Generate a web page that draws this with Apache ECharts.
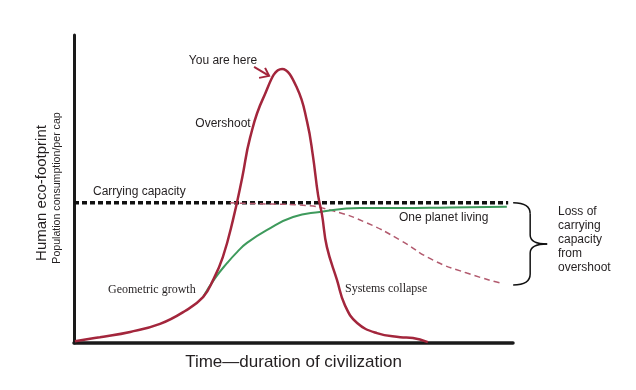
<!DOCTYPE html>
<html>
<head>
<meta charset="utf-8">
<script src="https://cdn.jsdelivr.net/npm/echarts@6/dist/echarts.min.js"></script>
<style>
html,body{margin:0;padding:0;background:#fff;}
#chart{width:636px;height:390px;}
</style>
</head>
<body>
<div id="chart"></div>
<script>
// Overshoot curve (time, footprint)
const overshootCurve = [
  [0.2,0.6],[5.9,1.9],[12.8,3.6],[19.6,6.2],[25.3,10.4],[29.4,14.9],[31.7,20.5],
  [33.9,27.9],[36.2,39.9],[38.3,53.6],[40.1,66.6],[43.1,79.5],[47.4,89],
  [50.8,82.8],[53.1,71.8],[54.4,61],[55.6,48],[56.5,41.6],[57.6,31.2],
  [59.9,20.5],[61.7,12.3],[64.5,6.5],[69,3.2],[74.3,1.9],[77.2,1.6],[80.6,0.3]
];
// One planet living curve
const onePlanetCurve = [
  [29.4,14.9],[32.1,21],[34.9,26],[37.2,29.6],[39.4,32.5],[44,36.7],[49.9,40.9],[56,42.5],
  [65.1,43.8],[74.3,43.8],[85.6,44],[98.6,44.2]
];
// Loss of carrying capacity (dashed)
const lossCurve = [
  [35.5,45.5],[45.3,45.1],[51.5,44.8],[59,42.9],[66.7,39],[74.3,33.4],[81.8,26.9],[89.5,22.7],[97,19.5]
];
// Carrying capacity level
const carryingCapacity = [[0,45.5],[98.9,45.5]];

const RED = '#a3263c';
const GREEN = '#3e9a5c';
const TXT = '#231f20';
const SANS = '"Liberation Sans", Arial, sans-serif';
const SERIF = '"Liberation Serif", "Times New Roman", serif';

const chart = echarts.init(document.getElementById('chart'));
const option = {
  animation: false,
  backgroundColor: '#fff',
  grid: {left: 74, right: 123, top: 35, bottom: 47},
  xAxis: {
    type: 'value', min: 0, max: 100,
    axisLine: {show: true, onZero: false, lineStyle: {color: '#1a1a1a', width: 3.5}},
    axisTick: {show: false}, axisLabel: {show: false}, splitLine: {show: false},
    name: 'Time\u2014duration of civilization', nameLocation: 'middle', nameGap: 11,
    nameTextStyle: {fontFamily: SANS, fontSize: 17, color: TXT}
  },
  yAxis: {
    type: 'value', min: 0, max: 100,
    axisLine: {show: true, onZero: false, lineStyle: {color: '#1a1a1a', width: 3}},
    axisTick: {show: false}, axisLabel: {show: false}, splitLine: {show: false}
  },
  series: [
    {
      name: 'Carrying capacity', type: 'line', data: carryingCapacity, symbol: 'none',
      lineStyle: {color: '#111', width: 3.5, type: [5, 3]}, z: 2
    },
    {
      name: 'Loss', type: 'line', data: lossCurve, symbol: 'none', smooth: 0.5,
      lineStyle: {color: '#b25a6e', width: 1.5, type: [6, 4]}, z: 3
    },
    {
      name: 'One planet living', type: 'line', data: onePlanetCurve, symbol: 'none', smooth: 0.5,
      lineStyle: {color: GREEN, width: 2}, z: 4
    },
    {
      name: 'Overshoot', type: 'line', data: overshootCurve, symbol: 'none', smooth: 0.45,
      lineStyle: {color: RED, width: 2.5}, z: 5
    }
  ]
};
chart.setOption(option);

function px(p){ return chart.convertToPixel({gridIndex: 0}, p); }
const capEnd = px(carryingCapacity[1]);
const lossEnd = px(lossCurve[lossCurve.length - 1]);
const peakPx = px(overshootCurve[12]);
const bx = capEnd[0] + 5, by0 = capEnd[1], by1 = lossEnd[1] + 2, bm = (by0 + by1) / 2;
const vx = bx + 17;
const braceStyle = {stroke: '#111', lineWidth: 1.5, fill: null};
function bez(x1, y1, c1x, c1y, c2x, c2y, x2, y2){
  return {type: 'bezierCurve', silent: true,
    shape: {x1: x1, y1: y1, cpx1: c1x, cpy1: c1y, cpx2: c2x, cpy2: c2y, x2: x2, y2: y2},
    style: braceStyle};
}
function seg(x1, y1, x2, y2, style){
  return {type: 'line', silent: true, shape: {x1: x1, y1: y1, x2: x2, y2: y2}, style: style};
}
const ax = peakPx[0] - 13, ay = peakPx[1] + 7;

function txt(x, y, t, size, font, align){
  return {type: 'text', x: x, y: y, silent: true,
    style: {text: t, fontSize: size, fontFamily: font || SANS, fill: TXT,
      align: align || 'center', verticalAlign: 'middle'}};
}

chart.setOption({
  graphic: [
    txt(223, 61, 'You are here', 12),
    txt(223, 124, 'Overshoot', 12),
    txt(93, 192, 'Carrying capacity', 12, SANS, 'left'),
    txt(399, 218, 'One planet living', 12, SANS, 'left'),
    txt(108, 290, 'Geometric growth', 12, SERIF, 'left'),
    txt(345, 289, 'Systems collapse', 12, SERIF, 'left'),
    {type: 'text', x: 558, y: 205, silent: true,
      style: {text: 'Loss of\ncarrying\ncapacity\nfrom\novershoot', fontSize: 12, lineHeight: 14,
        fontFamily: SANS, fill: TXT, align: 'left', verticalAlign: 'top'}},
    {type: 'text', x: 42, y: 193, rotation: Math.PI / 2, silent: true,
      style: {text: 'Human eco-footprint', fontSize: 15, fontFamily: SANS, fill: TXT,
        align: 'center', verticalAlign: 'middle'}},
    {type: 'text', x: 57, y: 188, rotation: Math.PI / 2, silent: true,
      style: {text: 'Population consumption/per cap', fontSize: 10.6, fontFamily: SANS, fill: TXT,
        align: 'center', verticalAlign: 'middle'}},
    // curly brace
    bez(bx, by0, bx + 10, by0, vx, by0 + 3, vx, by0 + 11),
    seg(vx, by0 + 11, vx, bm - 9, braceStyle),
    bez(vx, bm - 9, vx, bm - 3, vx + 6, bm, vx + 17, bm),
    bez(vx + 17, bm, vx + 6, bm, vx, bm + 3, vx, bm + 9),
    seg(vx, bm + 9, vx, by1 - 11, braceStyle),
    bez(vx, by1 - 11, vx, by1 - 3, bx + 10, by1, bx, by1),
    // "You are here" arrow
    seg(ax - 15, ay - 9, ax, ay, {stroke: RED, lineWidth: 2}),
    {type: 'polyline', silent: true, shape: {points: [[ax - 4, ay - 8], [ax, ay], [ax - 10, ay + 2]]},
      style: {stroke: RED, lineWidth: 2, fill: null}}
  ]
});
</script>
</body>
</html>
